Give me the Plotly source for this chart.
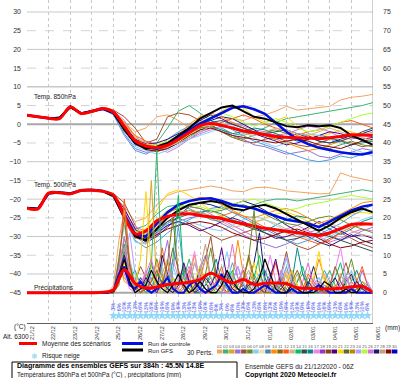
import plotly.graph_objects as go

# ---------------- data ----------------
hours12 = list(range(0, 385, 12))
hours6 = list(range(0, 385, 6))
day_hours = list(range(0, 385, 24))
dates = ["21/12", "22/12", "23/12", "24/12", "25/12", "26/12", "27/12", "28/12", "29/12",
         "30/12", "31/12", "01/01", "02/01", "03/01", "04/01", "05/01", "06/01"]
left_ticks = [30, 25, 20, 15, 10, 5, 0, -5, -10, -15, -20, -25, -30, -35, -40, -45]
right_ticks = [75, 70, 65, 60, 55, 50, 45, 40, 35, 30, 25, 20, 15, 10, 5, 0]

palette = ["#f4a460", "#3cb371", "#daa520", "#9370db", "#a0522d", "#6b8e23", "#87cefa", "#f5deb3",
           "#4682b4", "#ff8c00", "#8b6914", "#ff5a1e", "#d2b48c", "#00c060", "#2f4f4f", "#008b8b",
           "#ee82ee", "#9932cc", "#8b4513", "#4b0082", "#ffd700", "#556b2f", "#b8860b", "#b0a0ff",
           "#adff2f", "#da70d6", "#191970", "#c0a080", "#8b0000", "#0000cd"]
pert_labels = ["%02d" % i for i in range(1, 31)]

# 850 hPa temperature (°C), 12h steps
t850_mean = [2.4, 2.0, 1.6, 1.5, 4.6, 2.9, 3.4, 4.2, 3.2, -0.6, -4.4, -5.8, -6.2, -5.6, -4.0, -2.2, -0.4,
             0.2, -0.3, -1.0, -1.8, -2.3, -2.8, -3.2, -3.5, -3.6, -3.7, -3.8, -3.6, -3.3, -2.8, -2.9, -3.0]
t850_ctrl = [2.4, 2.0, 1.6, 1.6, 4.7, 2.9, 3.4, 4.1, 3.0, -1.0, -5.0, -6.0, -6.5, -5.5, -3.5, -1.5, 0.2,
             1.6, 3.2, 4.4, 4.8, 4.0, 2.8, 0.5, -2.0, -4.0, -5.3, -6.3, -7.0, -7.5, -7.9, -8.1, -7.5]
t850_gfs = [2.4, 2.0, 1.6, 1.7, 4.6, 2.9, 3.5, 4.2, 3.1, -1.5, -5.0, -6.5, -6.0, -5.0, -3.0, -1.0, 1.5,
            3.0, 4.5, 5.0, 3.5, 2.0, 1.5, 0.5, -0.5, -0.8, -0.3, -0.5, -0.3, -1.0, -3.0, -4.2, -5.5]
t850_members = [
    [2.5, 2.1, 1.7, 1.7, 4.5, 3.0, 3.5, 4.0, 3.0, 0.5, -2.0, -1.0, 2.0, 2.5, 1.0, -1.0, -2.0, -1.0, 0.5, 1.5, 1.0, 2.0, 2.5, 3.5, 4.8, 3.8, 4.2, 4.5, 4.8, 6.5, 7.2, 7.5, 8.0],
    [2.3, 2.0, 1.5, 1.6, 4.8, 2.8, 3.3, 4.3, 3.5, 0.0, -5.0, -6.5, -5.0, -1.0, 3.5, 5.0, 3.0, 1.0, -1.0, -2.5, -3.0, -2.0, -1.0, 0.5, 1.5, 2.0, 2.5, 3.0, 3.5, 4.0, 4.5, 5.0, 5.8],
    [2.4, 2.0, 1.6, 1.8, 4.6, 2.9, 3.6, 4.5, 3.8, 2.0, -1.0, -5.0, -4.0, 2.0, 3.0, 2.5, 1.0, 0.0, -2.0, -3.5, -4.5, -5.0, -4.0, -3.5, -4.5, -5.5, -6.0, -5.0, -4.0, -4.5, -5.0, -6.0, -5.5],
    [2.6, 2.1, 1.6, 2.0, 5.0, 3.1, 3.3, 4.0, 2.8, -2.5, -6.5, -7.5, -7.0, -6.0, -5.0, -4.0, -2.0, -1.0, -1.5, -3.0, -4.0, -5.5, -6.0, -7.0, -8.0, -7.5, -7.0, -8.5, -9.0, -8.0, -7.5, -6.5, -7.0],
    [2.4, 2.0, 1.5, 1.8, 4.4, 2.9, 3.4, 4.2, 3.3, -0.5, -4.0, -5.5, -6.0, -5.5, -4.5, -3.0, -0.5, 1.5, 3.5, 5.0, 4.5, 2.0, 0.5, 1.0, 2.0, -0.5, -2.5, -3.5, -2.5, -1.5, -2.0, -3.0, -2.5],
    [2.3, 1.9, 1.6, 1.9, 4.7, 2.9, 3.2, 4.1, 2.5, -3.0, -7.0, -8.0, -6.5, -4.0, -2.0, -0.5, 0.5, 1.0, 0.0, -1.5, -3.0, -4.5, -5.5, -6.5, -7.5, -8.5, -9.5, -10.0, -9.5, -8.5, -9.0, -8.0, -7.0],
    [2.5, 2.0, 1.7, 1.8, 4.9, 3.0, 3.5, 4.3, 3.6, 1.0, -3.5, -5.0, -6.5, -7.5, -6.0, -4.0, -2.5, -1.5, -0.5, 0.5, -0.5, -1.5, -2.0, -3.0, -2.5, -1.5, -0.5, -1.0, -2.0, -3.5, -4.0, -3.0, -2.0],
    [2.4, 2.0, 1.6, 1.7, 4.5, 2.8, 3.4, 4.2, 3.4, -1.5, -5.5, -6.5, -7.0, -6.5, -5.0, -3.5, -1.5, -0.5, -1.5, -2.5, -2.0, -1.0, -1.5, -2.5, -3.5, -4.5, -4.0, -3.0, -3.5, -4.5, -5.5, -5.0, -4.5],
    [2.5, 2.1, 1.6, 1.9, 4.7, 3.0, 3.3, 4.0, 3.0, -1.0, -5.0, -6.0, -6.0, -5.0, -3.0, -1.5, 0.0, 1.0, 2.0, 1.5, 0.0, -1.5, -3.0, -4.0, -3.5, -2.5, -3.0, -4.5, -5.0, -4.0, -3.0, -2.5, -1.5],
    [2.3, 2.0, 1.5, 1.8, 4.6, 2.9, 3.5, 4.4, 3.4, 0.0, -3.0, -4.5, -5.5, -5.0, -3.5, -2.0, -1.0, -0.5, 0.5, 1.5, 2.5, 1.5, 0.0, -1.0, -2.0, -3.0, -2.0, -1.5, -0.5, 0.5, 1.0, 0.0, -1.0],
    [2.4, 2.0, 1.6, 1.8, 4.6, 2.9, 3.3, 4.1, 3.1, -0.8, -4.8, -6.2, -6.8, -6.0, -4.5, -2.5, -1.0, -0.5, -2.0, -3.5, -4.0, -3.0, -2.0, -1.5, -2.5, -3.5, -5.0, -6.0, -6.5, -5.5, -4.5, -5.5, -6.0],
    [2.5, 2.0, 1.6, 1.8, 4.8, 3.0, 3.4, 4.2, 3.2, -0.2, -4.0, -5.2, -5.0, -4.0, -2.5, -1.0, 1.0, 2.5, 1.5, 0.0, -1.0, -2.5, -3.5, -4.5, -5.5, -5.0, -4.0, -3.0, -2.0, -2.5, -3.5, -4.0, -3.5],
    [2.4, 2.0, 1.6, 1.7, 4.5, 2.9, 3.4, 4.3, 3.5, 0.5, -3.0, -6.0, -7.5, -6.0, -3.0, 0.0, 2.0, 3.0, 2.0, 0.5, -1.0, -2.0, -3.0, -4.0, -5.0, -6.0, -7.0, -6.5, -5.5, -4.5, -3.5, -2.5, -3.0],
    [2.5, 2.0, 1.6, 1.9, 4.6, 2.9, 3.3, 4.1, 2.9, -2.0, -6.0, -7.0, -8.0, -7.0, -5.5, -4.0, -3.0, -2.0, -1.0, -0.5, -2.0, -3.5, -5.0, -6.0, -5.0, -3.5, -2.5, -3.0, -4.0, -5.0, -6.5, -7.5, -8.5],
    [2.4, 2.0, 1.6, 1.8, 4.7, 3.0, 3.4, 4.2, 3.2, -0.5, -4.5, -6.0, -6.5, -5.0, -3.0, -1.5, -0.5, 0.5, 1.0, 0.0, -1.0, -2.0, -2.5, -2.0, -1.5, -2.5, -3.5, -4.5, -5.0, -4.5, -3.5, -2.0, -1.0],
    [2.3, 2.0, 1.5, 1.7, 4.5, 2.8, 3.3, 4.2, 3.3, -0.5, -4.5, -5.5, -5.5, -4.5, -3.0, -1.5, 0.5, 2.0, 3.0, 2.0, 0.5, -0.5, 0.5, 1.5, 0.5, -1.0, -2.0, -1.5, -0.5, 0.5, 1.5, 2.5, 3.0],
    [2.4, 2.0, 1.6, 1.8, 4.6, 2.9, 3.4, 4.2, 3.1, -1.2, -5.2, -6.8, -7.2, -6.5, -5.0, -3.0, -1.5, -1.0, -2.0, -3.0, -3.5, -4.0, -4.5, -5.0, -4.5, -4.0, -4.5, -5.5, -6.0, -6.5, -5.5, -4.5, -4.0],
    [2.5, 2.1, 1.7, 1.8, 4.6, 3.0, 3.5, 4.3, 3.3, 0.2, -3.5, -5.0, -6.0, -6.0, -5.0, -3.5, -2.0, -0.5, 0.0, -1.0, -2.5, -3.0, -2.0, -1.0, -1.5, -2.5, -3.0, -2.0, -1.0, -2.0, -3.0, -3.5, -4.5],
]
member_colors = ["#f4a460", "#3cb371", "#a0522d", "#9370db", "#ffd700", "#4a9ee0", "#da70d6", "#008b8b",
                 "#191970", "#ff5a1e", "#6b8e23", "#4b0082", "#ff8c00", "#87cefa", "#2f4f4f", "#adff2f",
                 "#8b0000", "#d2b48c"]

# 500 hPa temperature (°C), 12h steps
t500_mean = [-22.4, -22.6, -18.4, -18.3, -18.6, -17.7, -17.6, -17.9, -19.0, -24.5, -29.3, -28.5, -25.8, -24.6,
             -24.1, -23.9, -24.4, -24.8, -25.2, -26.0, -26.6, -27.2, -27.8, -28.2, -28.6, -29.0, -29.4, -29.7,
             -29.0, -27.9, -26.8, -26.6, -26.7]
t500_ctrl = [-22.4, -22.6, -18.5, -18.2, -18.5, -17.6, -17.5, -17.8, -19.0, -24.0, -29.5, -30.0, -26.5, -23.5,
             -21.5, -20.5, -20.0, -19.8, -20.5, -21.5, -22.0, -22.5, -23.5, -24.5, -25.5, -26.0, -26.5, -27.5,
             -26.0, -24.5, -23.0, -22.0, -21.5]
t500_gfs = [-22.4, -22.6, -18.4, -18.3, -18.6, -17.7, -17.6, -17.9, -19.2, -25.0, -30.0, -31.0, -28.0, -25.0,
            -23.0, -21.5, -21.0, -20.5, -21.0, -22.5, -23.0, -22.0, -21.5, -22.5, -24.0, -25.5, -27.0, -28.5,
            -27.0, -25.0, -23.5, -22.5, -23.5]
t500_members = [
    [-22.4, -22.6, -18.5, -18.3, -18.6, -17.7, -17.5, -17.9, -19.0, -22.0, -26.0, -25.0, -21.5, -19.0, -18.0, -17.5, -17.0, -16.5, -17.0, -17.8, -18.0, -17.0, -16.8, -17.2, -17.8, -18.0, -18.3, -18.6, -18.5, -13.0, -14.0, -14.5, -15.2],
    [-22.4, -22.5, -18.3, -18.2, -18.5, -17.6, -17.7, -18.0, -19.5, -24.5, -28.0, -27.0, -24.0, -22.0, -21.5, -22.5, -24.0, -25.5, -26.0, -25.0, -23.0, -21.5, -20.5, -20.0, -20.0, -20.5, -20.0, -19.5, -19.0, -18.5, -18.0, -17.5, -18.0],
    [-22.5, -22.6, -18.4, -18.3, -18.6, -17.8, -17.6, -17.8, -18.5, -21.0, -27.0, -31.0, -29.0, -26.0, -25.0, -26.5, -28.0, -29.5, -31.0, -30.0, -29.0, -28.0, -27.5, -29.0, -31.0, -32.5, -33.5, -32.0, -30.5, -29.0, -30.5, -32.0, -33.0],
    [-22.4, -22.6, -18.5, -18.4, -18.7, -17.6, -17.5, -17.7, -18.8, -23.5, -30.0, -32.0, -29.5, -27.0, -26.0, -25.0, -24.5, -25.0, -26.5, -28.0, -29.5, -31.0, -32.0, -33.0, -32.0, -30.5, -29.0, -28.0, -29.5, -31.0, -30.0, -28.5, -27.5],
    [-22.3, -22.6, -18.4, -18.2, -18.6, -17.7, -17.6, -17.9, -19.2, -24.0, -28.5, -28.0, -23.0, -18.5, -17.5, -19.0, -21.0, -23.0, -24.5, -26.0, -27.0, -26.5, -25.0, -24.0, -23.5, -24.5, -26.0, -27.5, -26.5, -25.5, -24.0, -23.5, -24.0],
    [-22.4, -22.7, -18.5, -18.3, -18.6, -17.7, -17.6, -17.9, -19.5, -25.5, -31.0, -33.0, -31.5, -29.0, -27.0, -25.5, -24.0, -22.5, -22.0, -23.5, -25.0, -26.5, -28.0, -29.5, -31.0, -32.0, -31.0, -29.5, -28.0, -26.5, -24.5, -23.0, -21.5],
    [-22.4, -22.5, -18.4, -18.2, -18.5, -17.6, -17.5, -17.8, -19.0, -23.0, -27.5, -28.5, -27.0, -25.0, -23.0, -22.0, -22.5, -24.0, -25.5, -27.0, -28.5, -30.0, -30.5, -29.5, -28.0, -27.0, -28.5, -30.0, -31.5, -30.5, -29.0, -28.0, -28.5],
    [-22.4, -22.6, -18.5, -18.3, -18.6, -17.7, -17.6, -17.9, -19.1, -24.5, -29.0, -30.5, -28.5, -26.5, -25.0, -24.0, -23.5, -23.0, -24.0, -25.5, -26.5, -27.5, -28.5, -27.0, -25.5, -24.5, -25.0, -26.5, -28.0, -29.5, -28.0, -26.0, -25.0],
    [-22.5, -22.6, -18.4, -18.3, -18.6, -17.7, -17.6, -17.8, -19.0, -24.0, -29.5, -31.5, -30.0, -27.5, -24.5, -22.0, -21.0, -21.5, -22.5, -21.5, -20.5, -21.5, -23.0, -25.0, -27.0, -28.5, -30.0, -31.5, -32.5, -31.0, -29.5, -31.0, -32.0],
    [-22.4, -22.6, -18.5, -18.3, -18.6, -17.7, -17.6, -17.9, -19.3, -25.0, -30.5, -30.0, -27.0, -24.5, -23.5, -23.0, -24.0, -25.0, -24.5, -23.5, -24.5, -26.0, -27.5, -28.0, -29.0, -30.0, -31.0, -32.0, -31.0, -29.0, -27.5, -27.0, -26.5],
    [-22.4, -22.6, -18.5, -18.2, -18.6, -17.8, -17.6, -17.9, -19.1, -23.5, -28.5, -29.0, -26.0, -23.5, -22.5, -22.0, -22.5, -23.5, -23.0, -22.0, -21.5, -22.5, -24.0, -25.5, -26.5, -27.0, -26.0, -25.0, -24.5, -25.5, -27.0, -28.0, -29.0],
    [-22.4, -22.6, -18.4, -18.3, -18.5, -17.6, -17.5, -17.8, -18.9, -22.5, -28.0, -30.5, -29.0, -27.0, -26.0, -27.0, -28.5, -27.5, -26.0, -25.0, -26.0, -27.5, -29.0, -30.5, -30.0, -29.0, -27.5, -26.0, -27.0, -28.5, -30.0, -29.5, -30.5],
    [-22.4, -22.6, -18.5, -18.3, -18.6, -17.7, -17.6, -17.9, -19.0, -24.0, -29.0, -29.5, -27.0, -24.0, -22.0, -20.5, -19.5, -20.0, -21.5, -23.0, -24.5, -25.0, -24.0, -23.0, -22.5, -23.5, -25.0, -26.5, -25.5, -24.0, -22.5, -21.0, -20.5],
    [-22.4, -22.6, -18.4, -18.3, -18.6, -17.7, -17.6, -17.9, -19.3, -25.0, -31.5, -32.0, -29.0, -26.5, -25.5, -26.0, -27.0, -28.0, -28.5, -27.0, -25.5, -24.5, -25.5, -27.0, -28.5, -29.5, -30.5, -31.0, -30.0, -28.5, -27.0, -25.5, -24.5],
    [-22.4, -22.6, -18.5, -18.3, -18.6, -17.7, -17.6, -17.8, -19.0, -24.0, -29.0, -30.0, -28.0, -26.0, -24.0, -23.0, -23.5, -24.5, -25.0, -26.0, -27.0, -28.0, -29.0, -30.0, -31.0, -30.5, -29.5, -29.0, -30.0, -31.0, -32.0, -33.0, -34.0],
    [-22.4, -22.6, -18.5, -18.3, -18.6, -17.7, -17.6, -17.9, -19.2, -24.5, -29.5, -29.0, -25.5, -23.0, -22.0, -21.5, -22.0, -23.0, -22.5, -21.5, -20.5, -20.0, -21.0, -22.0, -23.0, -22.5, -21.5, -21.0, -20.5, -19.5, -19.0, -19.5, -20.0],
    [-22.4, -22.6, -18.4, -18.3, -18.6, -17.7, -17.6, -17.9, -19.1, -24.0, -29.5, -31.0, -29.5, -28.0, -27.0, -26.5, -26.0, -26.5, -27.5, -29.0, -30.0, -31.0, -30.5, -29.5, -28.5, -28.0, -29.0, -30.5, -32.0, -33.0, -32.5, -31.5, -31.0],
    [-22.4, -22.6, -18.5, -18.3, -18.6, -17.7, -17.6, -17.9, -19.0, -23.5, -28.5, -29.5, -27.5, -25.0, -23.5, -23.0, -23.5, -24.5, -26.0, -27.5, -27.0, -26.0, -25.5, -26.5, -28.0, -29.0, -28.0, -27.0, -26.5, -27.5, -28.5, -29.5, -30.0],
]

# precipitation (mm), mean at 12h steps, members at 6h steps
precip_mean = [0, 0, 0, 0, 0, 0, 0, 0.1, 0.8, 6.2, 2.5, 1.2, 1.5, 2.2, 2.5, 2.8, 3.5, 5.2, 3.8, 2.6, 3.5,
               2.2, 2.5, 2.6, 2.4, 1.3, 1.2, 1.0, 1.0, 1.2, 1.5, 1.7, 0.0]
Z16 = [0] * 16
precip_ctrl = Z16 + [0.5, 5, 7, 2, 1, 3, 1, 0, 1, 2, 4, 1, 0, 0, 2, 3, 1, 0, 1, 2, 5, 2, 0, 0, 1, 0, 0, 1, 2, 1,
                     0, 0, 0, 1, 0, 0, 0, 1, 2, 1, 0, 0, 0, 0, 1, 0, 0, 0, 0]
precip_gfs = Z16 + [0.3, 4, 9, 3, 0, 1, 2, 6, 3, 1, 0, 2, 5, 2, 0, 1, 3, 1, 0, 0, 2, 6, 3, 1, 0, 0, 1, 4, 9, 5,
                    1, 0, 0, 2, 1, 0, 0, 0, 1, 3, 2, 0, 0, 1, 0, 0, 2, 1, 0]
precip_members = [
    Z16 + [0.5, 6, 10, 4, 2, 1, 3, 7, 38, 5, 1, 0, 2, 4, 9, 3, 1, 0, 2, 6, 3, 1, 0, 0, 1, 3, 5, 2, 0, 0, 1, 4, 2, 0, 0, 1, 2, 0, 0, 3, 6, 2, 0, 0, 1, 2, 1, 0, 0],
    Z16 + [1, 8, 3, 2, 4, 1, 6, 30, 2, 1, 3, 0, 1, 5, 2, 8, 3, 1, 0, 0, 2, 4, 1, 0, 3, 9, 2, 0, 0, 1, 0, 2, 5, 1, 0, 0, 4, 2, 0, 1, 3, 1, 0, 2, 5, 3, 1, 0, 0],
    Z16 + [0, 3, 12, 6, 1, 0, 2, 4, 1, 8, 14, 3, 1, 0, 0, 2, 6, 10, 4, 1, 0, 0, 3, 7, 2, 1, 0, 0, 2, 5, 8, 3, 0, 0, 1, 0, 0, 2, 4, 1, 0, 0, 3, 1, 0, 1, 6, 2, 0],
    Z16 + [0.2, 5, 9, 2, 3, 7, 4, 1, 0, 2, 5, 12, 6, 2, 1, 0, 4, 9, 15, 5, 2, 0, 1, 3, 6, 2, 0, 0, 1, 2, 0, 5, 11, 4, 1, 0, 0, 2, 1, 0, 0, 1, 4, 8, 3, 1, 0, 2, 0],
    Z16 + [0, 4, 7, 3, 1, 2, 0, 5, 3, 1, 0, 6, 18, 5, 2, 1, 0, 2, 4, 1, 0, 3, 8, 4, 1, 0, 2, 5, 1, 0, 0, 3, 7, 2, 0, 1, 0, 0, 2, 6, 3, 0, 0, 1, 2, 0, 3, 1, 0],
    Z16 + [0, 2, 15, 8, 2, 0, 1, 3, 9, 4, 1, 0, 3, 7, 2, 0, 0, 5, 12, 3, 1, 0, 0, 2, 4, 9, 22, 6, 1, 0, 2, 4, 1, 0, 3, 5, 2, 0, 0, 1, 2, 0, 0, 4, 9, 3, 1, 0, 0],
    Z16 + [0.5, 7, 4, 2, 0, 1, 5, 2, 1, 3, 8, 2, 0, 1, 4, 10, 3, 1, 0, 2, 1, 0, 4, 14, 5, 1, 0, 0, 2, 3, 1, 0, 2, 6, 2, 0, 1, 3, 9, 4, 1, 0, 0, 2, 1, 0, 3, 2, 0],
    Z16 + [0, 3, 6, 2, 1, 4, 2, 0, 1, 10, 5, 1, 3, 2, 0, 1, 7, 3, 0, 0, 2, 5, 2, 1, 0, 3, 8, 16, 4, 1, 0, 1, 3, 1, 0, 0, 2, 7, 2, 0, 0, 1, 0, 3, 5, 1, 0, 0, 0],
    Z16 + [0, 9, 5, 1, 0, 2, 6, 3, 1, 0, 2, 9, 4, 1, 5, 11, 2, 0, 1, 3, 1, 0, 0, 2, 7, 3, 1, 0, 4, 10, 3, 0, 0, 1, 2, 0, 1, 4, 1, 0, 2, 6, 12, 4, 1, 0, 2, 1, 0],
    Z16 + [0, 5, 11, 3, 1, 0, 3, 8, 2, 0, 1, 4, 2, 6, 3, 0, 0, 2, 5, 9, 3, 1, 0, 1, 2, 0, 0, 4, 6, 2, 1, 0, 0, 3, 12, 5, 1, 0, 0, 2, 1, 0, 0, 1, 3, 6, 2, 0, 0],
    Z16 + [2, 14, 22, 6, 2, 1, 0, 3, 8, 2, 0, 1, 4, 2, 0, 0, 3, 9, 4, 1, 0, 2, 5, 2, 0, 0, 1, 3, 1, 0, 0, 2, 6, 3, 0, 0, 1, 0, 2, 5, 2, 0, 0, 1, 3, 1, 0, 0, 0],
    Z16 + [1, 10, 18, 9, 3, 1, 2, 5, 2, 0, 3, 7, 3, 1, 0, 2, 4, 1, 0, 1, 5, 11, 3, 1, 0, 0, 2, 4, 1, 0, 2, 5, 9, 3, 1, 0, 0, 2, 4, 1, 0, 1, 0, 2, 6, 2, 0, 1, 0],
    Z16 + [0.5, 6, 25, 8, 1, 0, 2, 1, 4, 12, 4, 1, 0, 2, 6, 3, 1, 0, 0, 3, 7, 2, 1, 0, 4, 2, 0, 0, 1, 3, 8, 2, 0, 0, 0, 1, 5, 3, 1, 0, 0, 2, 1, 0, 0, 3, 7, 2, 0],
    Z16 + [0, 8, 13, 4, 6, 2, 0, 1, 5, 3, 1, 9, 26, 4, 1, 0, 2, 5, 2, 0, 0, 3, 6, 1, 0, 1, 4, 10, 3, 0, 0, 2, 1, 0, 3, 7, 2, 0, 0, 1, 0, 4, 8, 2, 0, 0, 1, 2, 0],
    Z16 + [0, 4, 9, 16, 5, 2, 4, 1, 0, 2, 6, 3, 1, 0, 3, 8, 4, 1, 0, 0, 2, 1, 3, 7, 3, 0, 0, 1, 2, 0, 0, 4, 10, 3, 1, 0, 0, 1, 3, 1, 0, 0, 2, 5, 1, 0, 0, 3, 0],
    Z16 + [0, 3, 8, 4, 2, 9, 27, 6, 1, 0, 2, 4, 1, 0, 0, 3, 7, 3, 1, 0, 1, 4, 2, 0, 0, 2, 8, 3, 0, 0, 1, 0, 3, 6, 2, 0, 0, 4, 11, 3, 1, 0, 0, 2, 1, 0, 2, 1, 0],
    Z16 + [0, 6, 12, 5, 1, 0, 3, 2, 1, 5, 9, 2, 0, 1, 2, 0, 6, 13, 4, 1, 0, 2, 1, 0, 3, 6, 2, 0, 1, 4, 1, 0, 0, 2, 5, 1, 0, 0, 3, 2, 0, 1, 5, 2, 0, 0, 1, 0, 0],
    Z16 + [0, 5, 10, 3, 0, 1, 4, 2, 0, 3, 1, 0, 2, 8, 3, 0, 1, 4, 2, 5, 12, 4, 1, 0, 0, 2, 3, 1, 0, 4, 9, 2, 0, 1, 0, 0, 3, 1, 0, 0, 2, 4, 1, 0, 1, 3, 1, 0, 0],
    Z16 + [0.5, 7, 15, 4, 1, 2, 5, 9, 3, 1, 0, 2, 1, 4, 7, 2, 0, 0, 3, 1, 0, 5, 13, 4, 1, 0, 0, 2, 1, 0, 1, 6, 2, 0, 0, 3, 8, 2, 0, 0, 1, 0, 2, 4, 1, 0, 0, 2, 0],
    Z16 + [0, 9, 20, 7, 2, 0, 1, 3, 6, 2, 8, 20, 5, 1, 0, 2, 3, 1, 0, 2, 4, 2, 0, 0, 3, 10, 4, 1, 0, 0, 2, 1, 0, 3, 6, 2, 0, 0, 1, 0, 2, 7, 3, 0, 0, 1, 2, 0, 0],
]
precip_colors = ["#3cb371", "#daa520", "#9370db", "#a0522d", "#4a9ee0", "#6b8e23", "#ff8c00", "#191970",
                 "#ee82ee", "#008b8b", "#f4a460", "#87cefa", "#ff5a1e", "#00c060", "#b0a0ff", "#ffd700",
                 "#c0a080", "#4b0082", "#da70d6", "#8b6914"]

# snow risk (%), 6h steps from 96h to 378h
snow_hours = list(range(96, 379, 6))
snow_pct = [3, 6, 10, 13, 13, 16, 13, 16, 16, 19, 16, 19, 16, 13, 16, 13, 19, 16, 16, 6, 3, 0, 6, 10,
            13, 16, 13, 16, 16, 13, 16, 19, 16, 13, 16, 19, 16, 16, 19, 16, 16, 13, 16, 19, 16, 13, 10, 6]

# ---------------- figure ----------------
W, H = 400, 378
L, R, T, B = 27, 27, 0, 55
PW, PH = W - L - R, H - T - B
Y0, Y1 = -53.1, 33.2
OFF = 45


def px(xp):
    return (xp - L) / PW


def py(yp):
    return (H - B - yp) / PH


FONT = "Liberation Sans"
fig = go.Figure()

for vals, col in zip(t850_members, member_colors):
    fig.add_trace(go.Scatter(x=hours12, y=vals, mode="lines", line=dict(color=col, width=1), hoverinfo="skip"))
for vals, col in zip(t500_members, member_colors):
    fig.add_trace(go.Scatter(x=hours12, y=vals, mode="lines", line=dict(color=col, width=1), hoverinfo="skip"))
for vals, col in zip(precip_members, precip_colors):
    fig.add_trace(go.Scatter(x=hours6, y=vals, yaxis="y2", mode="lines", line=dict(color=col, width=1),
                             hoverinfo="skip"))

fig.add_trace(go.Scatter(x=hours6, y=precip_ctrl, yaxis="y2", mode="lines", line=dict(color="#0010e0", width=2)))
fig.add_trace(go.Scatter(x=hours6, y=precip_gfs, yaxis="y2", mode="lines", line=dict(color="#000000", width=1.2)))
for ctrl, gfs in [(t850_ctrl, t850_gfs), (t500_ctrl, t500_gfs)]:
    fig.add_trace(go.Scatter(x=hours12, y=ctrl, mode="lines", line=dict(color="#0010e0", width=2.5)))
    fig.add_trace(go.Scatter(x=hours12, y=gfs, mode="lines", line=dict(color="#000000", width=2)))

for mean in [t850_mean, t500_mean]:
    fig.add_trace(go.Scatter(x=hours12, y=mean, mode="lines", line=dict(color="#ff0000", width=3, shape="spline")))
fig.add_trace(go.Scatter(x=hours12, y=precip_mean, yaxis="y2", mode="lines",
                         line=dict(color="#ff0000", width=3, shape="spline")))

# snow risk row
snow_level = -51.1 + OFF
fig.add_trace(go.Scatter(x=snow_hours, y=[snow_level] * len(snow_hours), yaxis="y2", mode="markers",
                         marker=dict(symbol="star", size=7, color="#8fd8f8"), hoverinfo="skip"))

shapes = []
for v in left_ticks:
    if v in (0, -45):
        shapes.append(dict(type="line", xref="x", yref="y", x0=0, x1=384, y0=v, y1=v,
                           line=dict(color="#a8a8a8", width=2), layer="below"))
    elif v % 10 == 0:
        shapes.append(dict(type="line", xref="x", yref="y", x0=0, x1=384, y0=v, y1=v,
                           line=dict(color="#c8c8c8", width=1.5 if v == 10 else 1), layer="below"))
    else:
        shapes.append(dict(type="line", xref="x", yref="y", x0=0, x1=384, y0=v, y1=v,
                           line=dict(color="#d4d4d4", width=1, dash="dash"), layer="below"))
shapes.append(dict(type="line", xref="x", yref="paper", x0=384, x1=384, y0=0, y1=1,
                   line=dict(color="#a0a0a0", width=1)))

# legend graphics
shapes.append(dict(type="line", xref="paper", yref="paper", x0=px(19), x1=px(37), y0=py(343.5), y1=py(343.5),
                   line=dict(color="#ff0000", width=3)))
shapes.append(dict(type="line", xref="paper", yref="paper", x0=px(122), x1=px(143), y0=py(343.5), y1=py(343.5),
                   line=dict(color="#0010e0", width=3)))
shapes.append(dict(type="line", xref="paper", yref="paper", x0=px(122), x1=px(143), y0=py(350), y1=py(350),
                   line=dict(color="#000000", width=3)))
shapes.append(dict(type="rect", xref="paper", yref="paper", x0=px(12), x1=px(237), y0=py(362), y1=py(380),
                   line=dict(color="#000000", width=1)))
for i, col in enumerate(palette):
    x0 = 217 + i * 6.03
    shapes.append(dict(type="rect", xref="paper", yref="paper", x0=px(x0), x1=px(x0 + 5.5), y0=py(353.5),
                       y1=py(349.5), fillcolor=col, line=dict(width=0)))

ann = []


def txt(x, y, s, size=6.5, bold=False, color="#202020", anchor="left"):
    ann.append(dict(xref="paper", yref="paper", x=px(x), y=py(y), text=("<b>%s</b>" % s) if bold else s,
                    showarrow=False, xanchor=anchor, yanchor="middle",
                    font=dict(family=FONT, size=size, color=color)))


txt(40, 344, "Moyenne des scénarios")
txt(146, 343.5, "Run de controle", size=6)
txt(146, 350.5, "Run GFS", size=6)
txt(40, 356, "Risque neige")
txt(34, 356, "❄", size=8, color="#80c8f0", anchor="center")
txt(185, 352, "30 Perts.")
txt(15, 366, "Diagramme des ensembles GEFS sur 384h : 45.5N 14.8E", size=7, bold=True, color="#000")
txt(15, 374.5, "Températures 850hPa et 500hPa (°C) , précipitations (mm)", size=6.3)
txt(243, 366, "Ensemble GEFS du 21/12/2020 - 06Z", size=6.5)
txt(243, 374.5, "Copyright 2020 Meteociel.fr", size=7, bold=True, color="#000")
txt(12, 327, "(°C)")
txt(1, 336, "Alt. 6300")
txt(383, 328, "(mm)")
txt(32, 97, "Temp. 850hPa")
txt(32, 185, "Temp. 500hPa")
txt(32, 288, "Précipitations")
for i, lab in enumerate(pert_labels):
    txt(217 + i * 6.03 + 2.75, 346.5, lab, size=4.3, anchor="center", color="#555")

for h, p in zip(snow_hours, snow_pct):
    ann.append(dict(xref="x", yref="y", x=h, y=-48.9, text="%d%%" % p, textangle=-90, showarrow=False,
                    font=dict(family=FONT, size=5.5, color="#4a50e8")))

fig.update_layout(
    width=W, height=H, margin=dict(l=L, r=R, t=T, b=B),
    plot_bgcolor="white", paper_bgcolor="white", showlegend=False,
    shapes=shapes, annotations=ann,
    xaxis=dict(range=[0, 384], tickvals=day_hours, ticktext=dates, tickangle=-90,
               tickfont=dict(family=FONT, size=5.5, color="#303030"), showgrid=True, gridcolor="#c8c8c8",
               griddash="dot", gridwidth=1, showline=True, linecolor="#606060", linewidth=1, ticks="",
               zeroline=False, ticklabelshift=5, ticklabelstandoff=0),
    yaxis=dict(range=[Y0, Y1], tickvals=left_ticks, tickfont=dict(family=FONT, size=7, color="#303030"),
               showgrid=False, zeroline=False, ticks="", ticklabelstandoff=5),
    yaxis2=dict(range=[Y0 + OFF, Y1 + OFF], tickvals=right_ticks, overlaying="y", side="right",
                tickfont=dict(family=FONT, size=7, color="#303030"), showgrid=False, zeroline=False,
                ticks="", ticklabelstandoff=9),
)

fig.write_html("out.html")
